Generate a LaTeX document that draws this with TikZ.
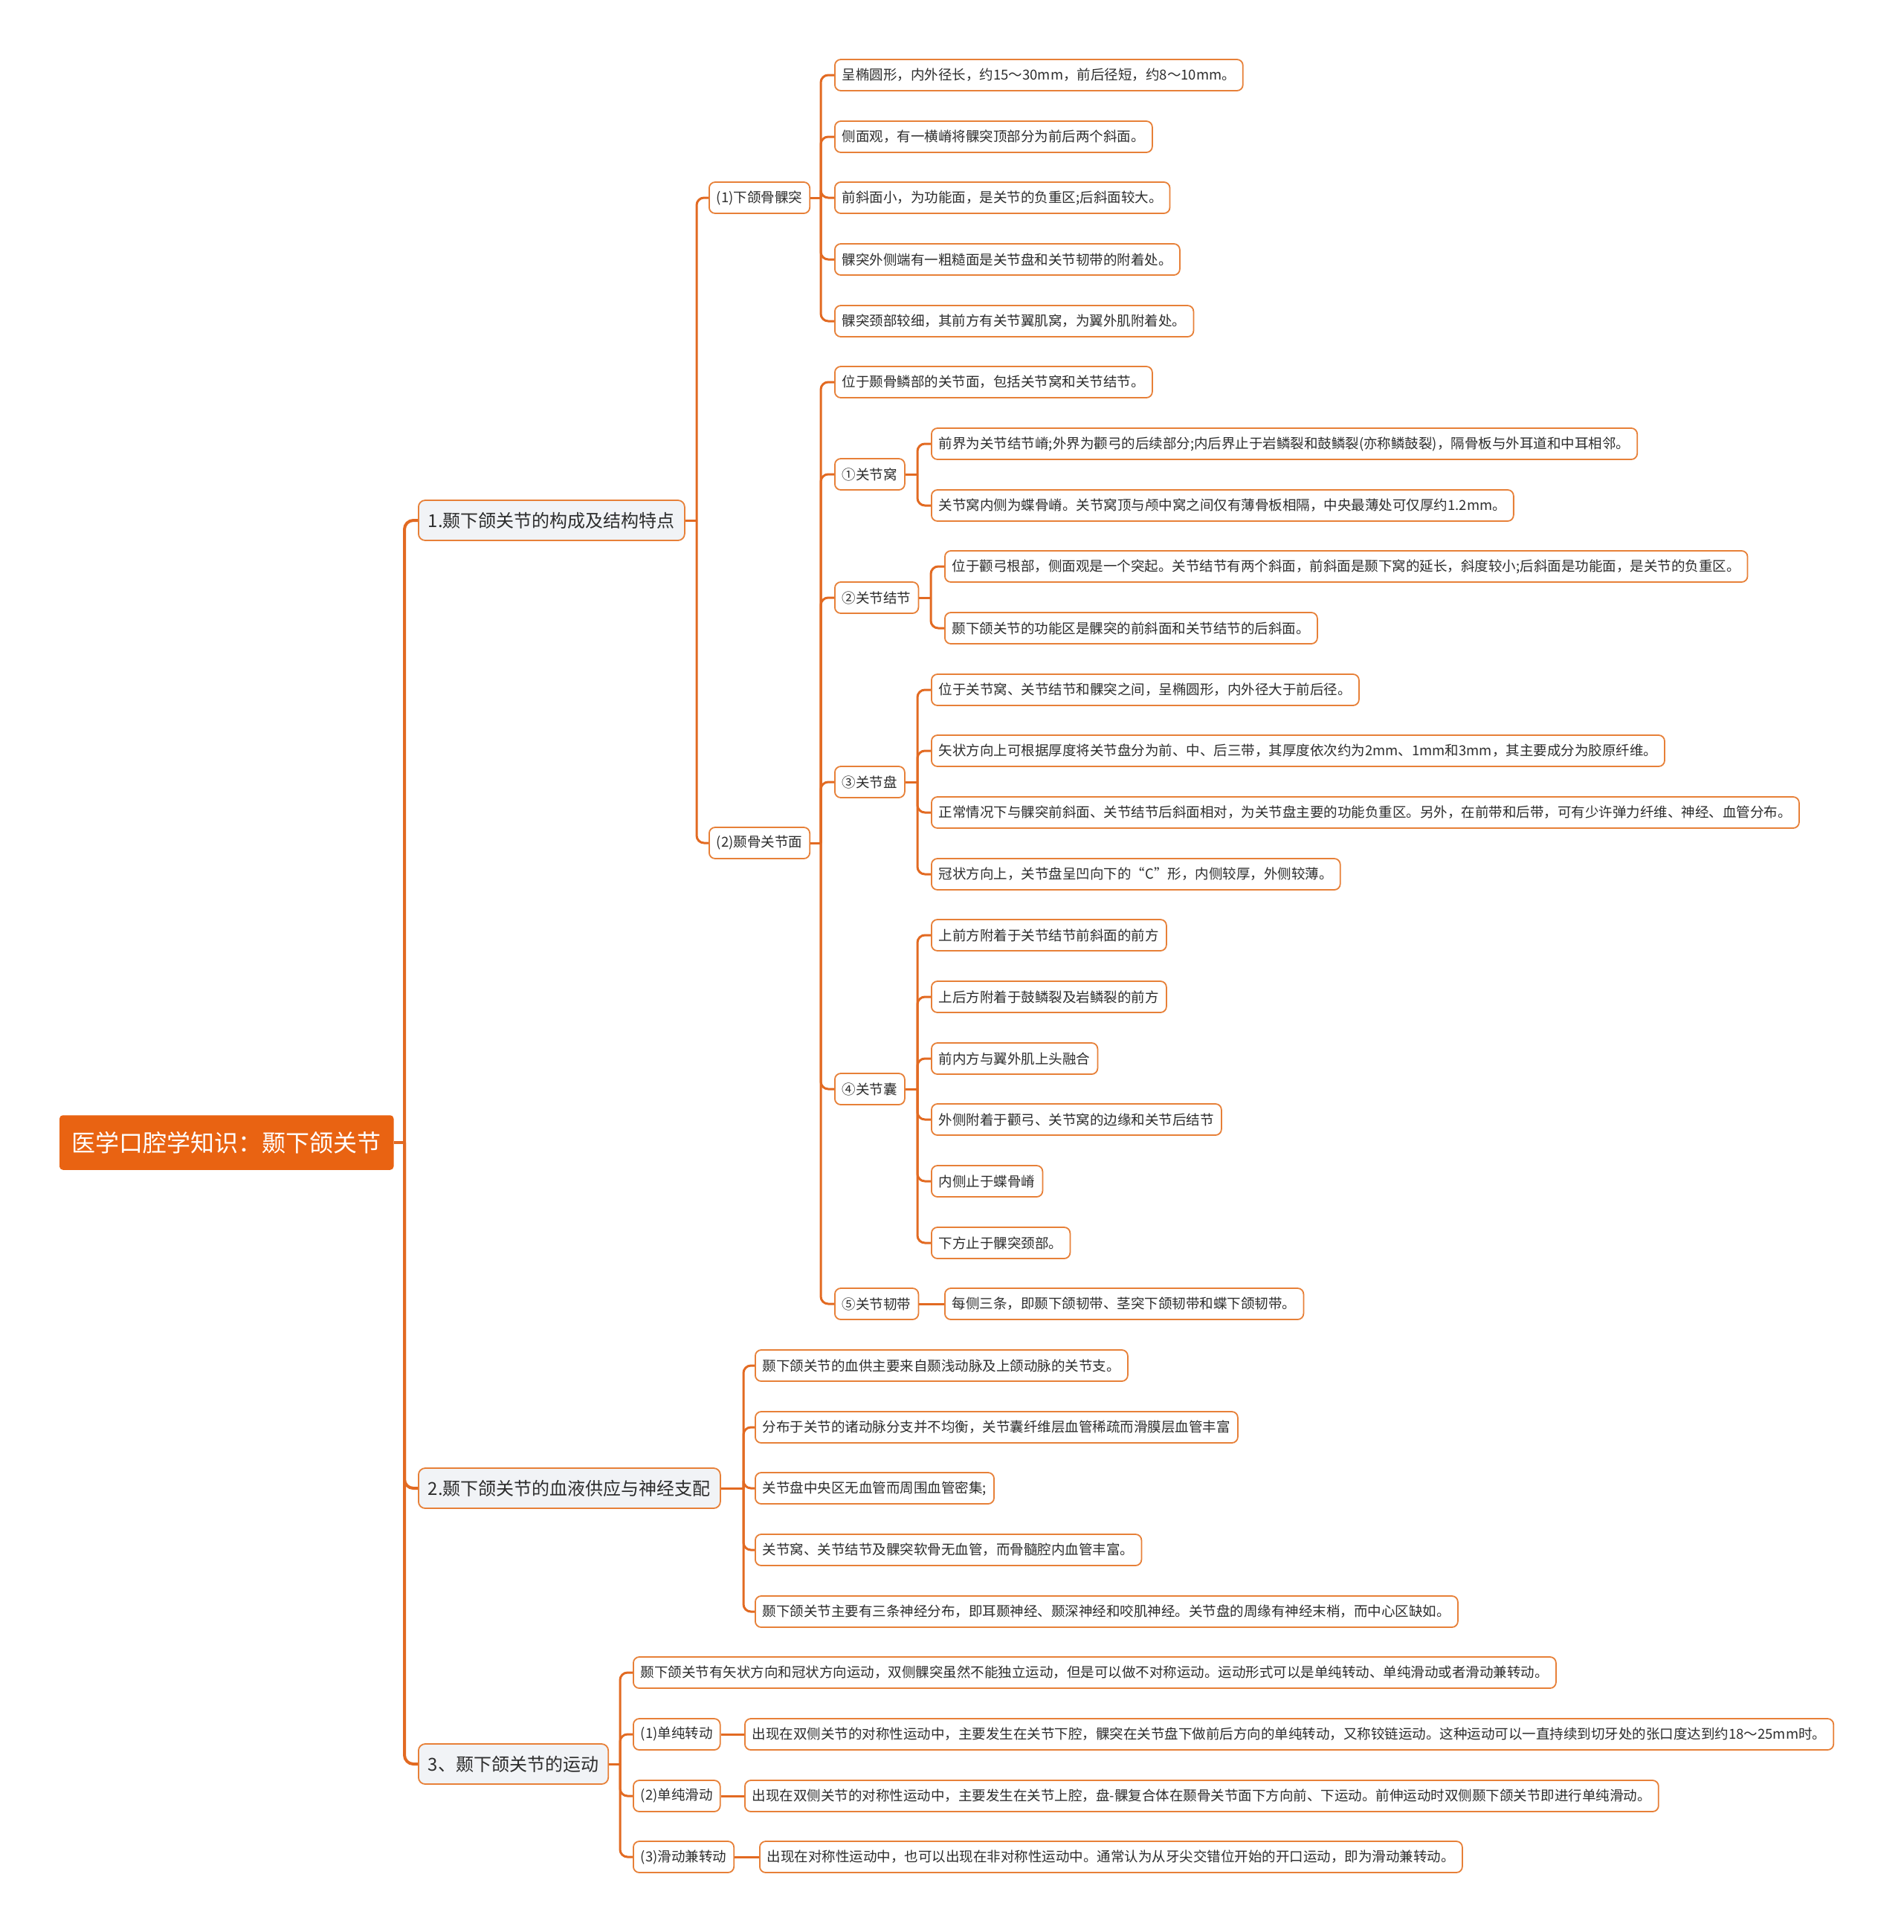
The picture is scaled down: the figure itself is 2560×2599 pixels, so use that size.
\documentclass[tikz,border=0pt]{standalone}
\usepackage{fontspec}
\newfontfamily\cjk{Noto Sans CJK SC}
\usepackage{tikz}
\usetikzlibrary{calc, positioning}
\definecolor{rootorange}{RGB}{233,99,18}
\definecolor{linkorange}{RGB}{226,106,34}
\definecolor{boxorange}{RGB}{231,128,56}
\definecolor{topicgray}{RGB}{241,243,246}
\definecolor{textgray}{RGB}{45,45,45}
\tikzstyle{rootbox}=[draw=rootorange, fill=rootorange, text=white, rounded corners=4pt, line width=1.5pt, anchor=west, inner xsep=16pt, inner ysep=0pt, minimum height=72pt, font=\cjk\fontsize{32}{36}\selectfont]
\tikzstyle{topicbox}=[draw=boxorange, fill=topicgray, text=textgray, rounded corners=9pt, line width=1.8pt, anchor=west, inner xsep=13pt, inner ysep=0pt, minimum height=54pt, font=\cjk\fontsize{24}{28}\selectfont]
\tikzstyle{leafbox}=[draw=boxorange, fill=white, text=textgray, rounded corners=8pt, line width=1.8pt, anchor=west, inner xsep=10pt, inner ysep=0pt, minimum height=42pt, font=\cjk\fontsize{18.5}{22}\selectfont]
\tikzstyle{trunk}=[draw=linkorange, line width=4pt, rounded corners=12pt]
\tikzstyle{link}=[draw=linkorange, line width=3pt, rounded corners=10pt]

\begin{document}
\begin{tikzpicture}[x=1pt, y=-1pt]
\useasboundingbox (0,0) rectangle (2560,2599);

\node[rootbox] (root) at (80,1537) {医学口腔学知识：颞下颌关节};

\node[topicbox] (T1) at (562,700) {1.颞下颌关节的构成及结构特点};
\node[topicbox] (T2) at (562,2002) {2.颞下颌关节的血液供应与神经支配};
\node[topicbox] (T3) at (562,2373) {3、颞下颌关节的运动};

% 1. 构成及结构特点
\node[leafbox] (A) at (953,266) {(1)下颌骨髁突};
\node[leafbox] (B) at (953,1134) {(2)颞骨关节面};

\node[leafbox] (A1) at (1122,101) {呈椭圆形，内外径长，约15～30mm，前后径短，约8～10mm。};
\node[leafbox] (A2) at (1122,184) {侧面观，有一横嵴将髁突顶部分为前后两个斜面。};
\node[leafbox] (A3) at (1122,266) {前斜面小，为功能面，是关节的负重区;后斜面较大。};
\node[leafbox] (A4) at (1122,349) {髁突外侧端有一粗糙面是关节盘和关节韧带的附着处。};
\node[leafbox] (A5) at (1122,432) {髁突颈部较细，其前方有关节翼肌窝，为翼外肌附着处。};

\node[leafbox] (B0) at (1122,514) {位于颞骨鳞部的关节面，包括关节窝和关节结节。};
\node[leafbox] (B1) at (1122,638) {①关节窝};
\node[leafbox] (B2) at (1122,804) {②关节结节};
\node[leafbox] (B3) at (1122,1052) {③关节盘};
\node[leafbox] (B4) at (1122,1465) {④关节囊};
\node[leafbox] (B5) at (1122,1754) {⑤关节韧带};

\node[leafbox] (B1a) at (1252,597) {前界为关节结节嵴;外界为颧弓的后续部分;内后界止于岩鳞裂和鼓鳞裂(亦称鳞鼓裂)，隔骨板与外耳道和中耳相邻。};
\node[leafbox] (B1b) at (1252,680) {关节窝内侧为蝶骨嵴。关节窝顶与颅中窝之间仅有薄骨板相隔，中央最薄处可仅厚约1.2mm。};
\node[leafbox] (B2a) at (1270,762) {位于颧弓根部，侧面观是一个突起。关节结节有两个斜面，前斜面是颞下窝的延长，斜度较小;后斜面是功能面，是关节的负重区。};
\node[leafbox] (B2b) at (1270,845) {颞下颌关节的功能区是髁突的前斜面和关节结节的后斜面。};
\node[leafbox] (B3a) at (1252,928) {位于关节窝、关节结节和髁突之间，呈椭圆形，内外径大于前后径。};
\node[leafbox] (B3b) at (1252,1010) {矢状方向上可根据厚度将关节盘分为前、中、后三带，其厚度依次约为2mm、1mm和3mm，其主要成分为胶原纤维。};
\node[leafbox] (B3c) at (1252,1093) {正常情况下与髁突前斜面、关节结节后斜面相对，为关节盘主要的功能负重区。另外，在前带和后带，可有少许弹力纤维、神经、血管分布。};
\node[leafbox] (B3d) at (1252,1176) {冠状方向上，关节盘呈凹向下的“C”形，内侧较厚，外侧较薄。};
\node[leafbox] (B4a) at (1252,1258) {上前方附着于关节结节前斜面的前方};
\node[leafbox] (B4b) at (1252,1341) {上后方附着于鼓鳞裂及岩鳞裂的前方};
\node[leafbox] (B4c) at (1252,1424) {前内方与翼外肌上头融合};
\node[leafbox] (B4d) at (1252,1506) {外侧附着于颧弓、关节窝的边缘和关节后结节};
\node[leafbox] (B4e) at (1252,1589) {内侧止于蝶骨嵴};
\node[leafbox] (B4f) at (1252,1672) {下方止于髁突颈部。};
\node[leafbox] (B5a) at (1270,1754) {每侧三条，即颞下颌韧带、茎突下颌韧带和蝶下颌韧带。};

% 2. 血液供应与神经支配
\node[leafbox] (X1) at (1015,1837) {颞下颌关节的血供主要来自颞浅动脉及上颌动脉的关节支。};
\node[leafbox] (X2) at (1015,1920) {分布于关节的诸动脉分支并不均衡，关节囊纤维层血管稀疏而滑膜层血管丰富};
\node[leafbox] (X3) at (1015,2002) {关节盘中央区无血管而周围血管密集;};
\node[leafbox] (X4) at (1015,2085) {关节窝、关节结节及髁突软骨无血管，而骨髓腔内血管丰富。};
\node[leafbox] (X5) at (1015,2168) {颞下颌关节主要有三条神经分布，即耳颞神经、颞深神经和咬肌神经。关节盘的周缘有神经末梢，而中心区缺如。};

% 3. 运动
\node[leafbox] (M0) at (851,2250) {颞下颌关节有矢状方向和冠状方向运动，双侧髁突虽然不能独立运动，但是可以做不对称运动。运动形式可以是单纯转动、单纯滑动或者滑动兼转动。};
\node[leafbox] (M1) at (851,2333) {(1)单纯转动};
\node[leafbox] (M2) at (851,2416) {(2)单纯滑动};
\node[leafbox] (M3) at (851,2498) {(3)滑动兼转动};
\node[leafbox] (M1a) at (1001,2333) {出现在双侧关节的对称性运动中，主要发生在关节下腔，髁突在关节盘下做前后方向的单纯转动，又称铰链运动。这种运动可以一直持续到切牙处的张口度达到约18～25mm时。};
\node[leafbox] (M2a) at (1001,2416) {出现在双侧关节的对称性运动中，主要发生在关节上腔，盘-髁复合体在颞骨关节面下方向前、下运动。前伸运动时双侧颞下颌关节即进行单纯滑动。};
\node[leafbox] (M3a) at (1021,2498) {出现在对称性运动中，也可以出现在非对称性运动中。通常认为从牙尖交错位开始的开口运动，即为滑动兼转动。};

% branch points
\coordinate (Rj) at ([xshift=-18pt]T1.west |- root.east);
\coordinate (T1j) at ([xshift=-16pt]A.west |- T1.east);
\coordinate (Aj) at ([xshift=-18pt]A1.west |- A.east);
\coordinate (Bj) at ([xshift=-18pt]B0.west |- B.east);
\coordinate (B1j) at ([xshift=-18pt]B1a.west |- B1.east);
\coordinate (B2j) at ([xshift=-18pt]B2a.west |- B2.east);
\coordinate (B3j) at ([xshift=-18pt]B3a.west |- B3.east);
\coordinate (B4j) at ([xshift=-18pt]B4a.west |- B4.east);
\coordinate (T2j) at ([xshift=-15pt]X1.west |- T2.east);
\coordinate (T3j) at ([xshift=-17pt]M0.west |- T3.east);

\draw[trunk] (root.east) -- (Rj);
\foreach \c in {T1,T2,T3} \draw[trunk] (Rj) |- (\c.west);

\draw[link] (T1.east) -- (T1j);
\foreach \c in {A,B} \draw[link] (T1j) |- (\c.west);
\draw[link] (A.east) -- (Aj);
\foreach \c in {A1,A2,A3,A4,A5} \draw[link] (Aj) |- (\c.west);
\draw[link] (B.east) -- (Bj);
\foreach \c in {B0,B1,B2,B3,B4,B5} \draw[link] (Bj) |- (\c.west);
\draw[link] (B1.east) -- (B1j);
\foreach \c in {B1a,B1b} \draw[link] (B1j) |- (\c.west);
\draw[link] (B2.east) -- (B2j);
\foreach \c in {B2a,B2b} \draw[link] (B2j) |- (\c.west);
\draw[link] (B3.east) -- (B3j);
\foreach \c in {B3a,B3b,B3c,B3d} \draw[link] (B3j) |- (\c.west);
\draw[link] (B4.east) -- (B4j);
\foreach \c in {B4a,B4b,B4c,B4d,B4e,B4f} \draw[link] (B4j) |- (\c.west);
\draw[link] (B5.east) -- (B5a.west);

\draw[link] (T2.east) -- (T2j);
\foreach \c in {X1,X2,X3,X4,X5} \draw[link] (T2j) |- (\c.west);

\draw[link] (T3.east) -- (T3j);
\foreach \c in {M0,M1,M2,M3} \draw[link] (T3j) |- (\c.west);
\draw[link] (M1.east) -- (M1a.west);
\draw[link] (M2.east) -- (M2a.west);
\draw[link] (M3.east) -- (M3a.west);
\end{tikzpicture}
\end{document}
